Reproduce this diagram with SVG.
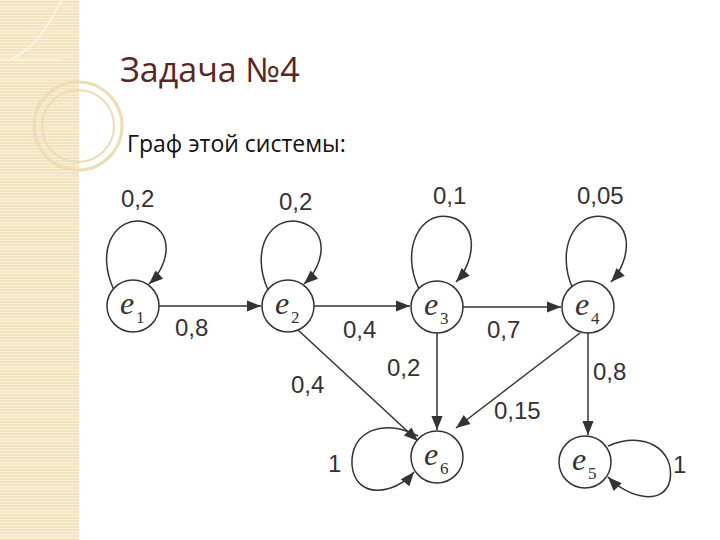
<svg xmlns="http://www.w3.org/2000/svg" width="720" height="540" viewBox="0 0 720 540">
<defs>
<pattern id="stripes" width="4" height="3" patternUnits="userSpaceOnUse">
<rect width="4" height="3" fill="#f3e3c0"/><rect width="4" height="1" fill="#faf0da"/>
</pattern>
<marker id="arl" viewBox="0 0 10 10" refX="10" refY="5" markerWidth="16" markerHeight="14" orient="auto" markerUnits="userSpaceOnUse"><path d="M0,1 L10,5 L0,9 z" fill="#333"/></marker>
</defs>
<style>
.n{fill:#fff;stroke:#333;stroke-width:1.5}
.e{fill:none;stroke:#333;stroke-width:1.5;marker-end:url(#arl)}
.lb{font-family:"Liberation Sans",Arial,sans-serif;font-size:24px;fill:#333}
.nl{font-family:"Liberation Serif",serif;font-style:italic;font-size:32px;fill:#333}
.sub{font-family:"Liberation Serif",serif;font-size:17px;fill:#333}
</style>
<rect width="720" height="540" fill="#fff"/>
<g id="band">
<rect x="0" y="0" width="79" height="540" fill="url(#stripes)"/>
<path d="M0,60 L60,60 M62,0 C40,40 30,50 10,60" fill="none" stroke="#fbf3e2" stroke-width="2"/>
<circle cx="78" cy="126" r="44" fill="none" stroke="#eddcb5" stroke-width="3"/>
<circle cx="78" cy="126" r="36" fill="none" stroke="#eddcb5" stroke-width="2"/>
</g>
<text x="120" y="82" font-family="Open Sans, sans-serif" font-size="34" fill="#5a2525">Задача №4</text>
<text x="127" y="152" font-family="Open Sans, sans-serif" font-size="23" fill="#111">Граф этой системы:</text>
<g id="connectors">
<path class="e" d="M159,306 L261,306"/>
<path class="e" d="M314,306 L410,306"/>
<path class="e" d="M463,307 L561,307"/>
<path class="e" d="M298,330 L418,441"/>
<path class="e" d="M437,333 L437,430"/>
<path class="e" d="M580,333 L456,428"/>
<path class="e" d="M588,333 L588,435"/>
<path class="e" d="M114,290 C95,250 115,215 145,222 C175,230 170,265 149,284"/>
<path class="e" d="M268,290 C250,250 270,215 300,222 C330,230 325,265 304,284"/>
<path class="e" d="M419,289 C400,250 420,210 450,217 C480,224 475,262 456,282"/>
<path class="e" d="M573,289 C555,250 575,210 605,217 C635,224 630,262 611,282"/>
<path class="e" d="M418,436 C385,418 350,430 352,465 C355,500 395,495 414,472"/>
<path class="e" d="M608,446 C645,430 675,450 670,480 C665,505 630,500 608,477"/>
</g>
<g id="e1"><circle class="n" cx="133" cy="306" r="26"/><text class="nl" x="120" y="314">e</text><text class="sub" x="136" y="323">1</text></g>
<g id="e2"><circle class="n" cx="288" cy="306" r="26"/><text class="nl" x="275" y="314">e</text><text class="sub" x="291" y="323">2</text></g>
<g id="e3"><circle class="n" cx="437" cy="307" r="26"/><text class="nl" x="424" y="315">e</text><text class="sub" x="440" y="324">3</text></g>
<g id="e4"><circle class="n" cx="588" cy="307" r="26"/><text class="nl" x="575" y="315">e</text><text class="sub" x="591" y="324">4</text></g>
<g id="e6"><circle class="n" cx="437" cy="457" r="26"/><text class="nl" x="424" y="465">e</text><text class="sub" x="440" y="474">6</text></g>
<g id="e5"><circle class="n" cx="585" cy="462" r="26"/><text class="nl" x="572" y="470">e</text><text class="sub" x="588" y="479">5</text></g>
<g id="labels">
<text class="lb" x="121" y="207">0,2</text>
<text class="lb" x="279" y="210">0,2</text>
<text class="lb" x="433" y="204">0,1</text>
<text class="lb" x="577" y="204">0,05</text>
<text class="lb" x="175" y="336">0,8</text>
<text class="lb" x="343" y="338">0,4</text>
<text class="lb" x="487" y="338">0,7</text>
<text class="lb" x="387" y="376">0,2</text>
<text class="lb" x="291" y="393">0,4</text>
<text class="lb" x="593" y="380">0,8</text>
<text class="lb" x="494" y="419">0,15</text>
<text class="lb" x="328" y="472">1</text>
<text class="lb" x="673" y="473">1</text>
</g>
</svg>
